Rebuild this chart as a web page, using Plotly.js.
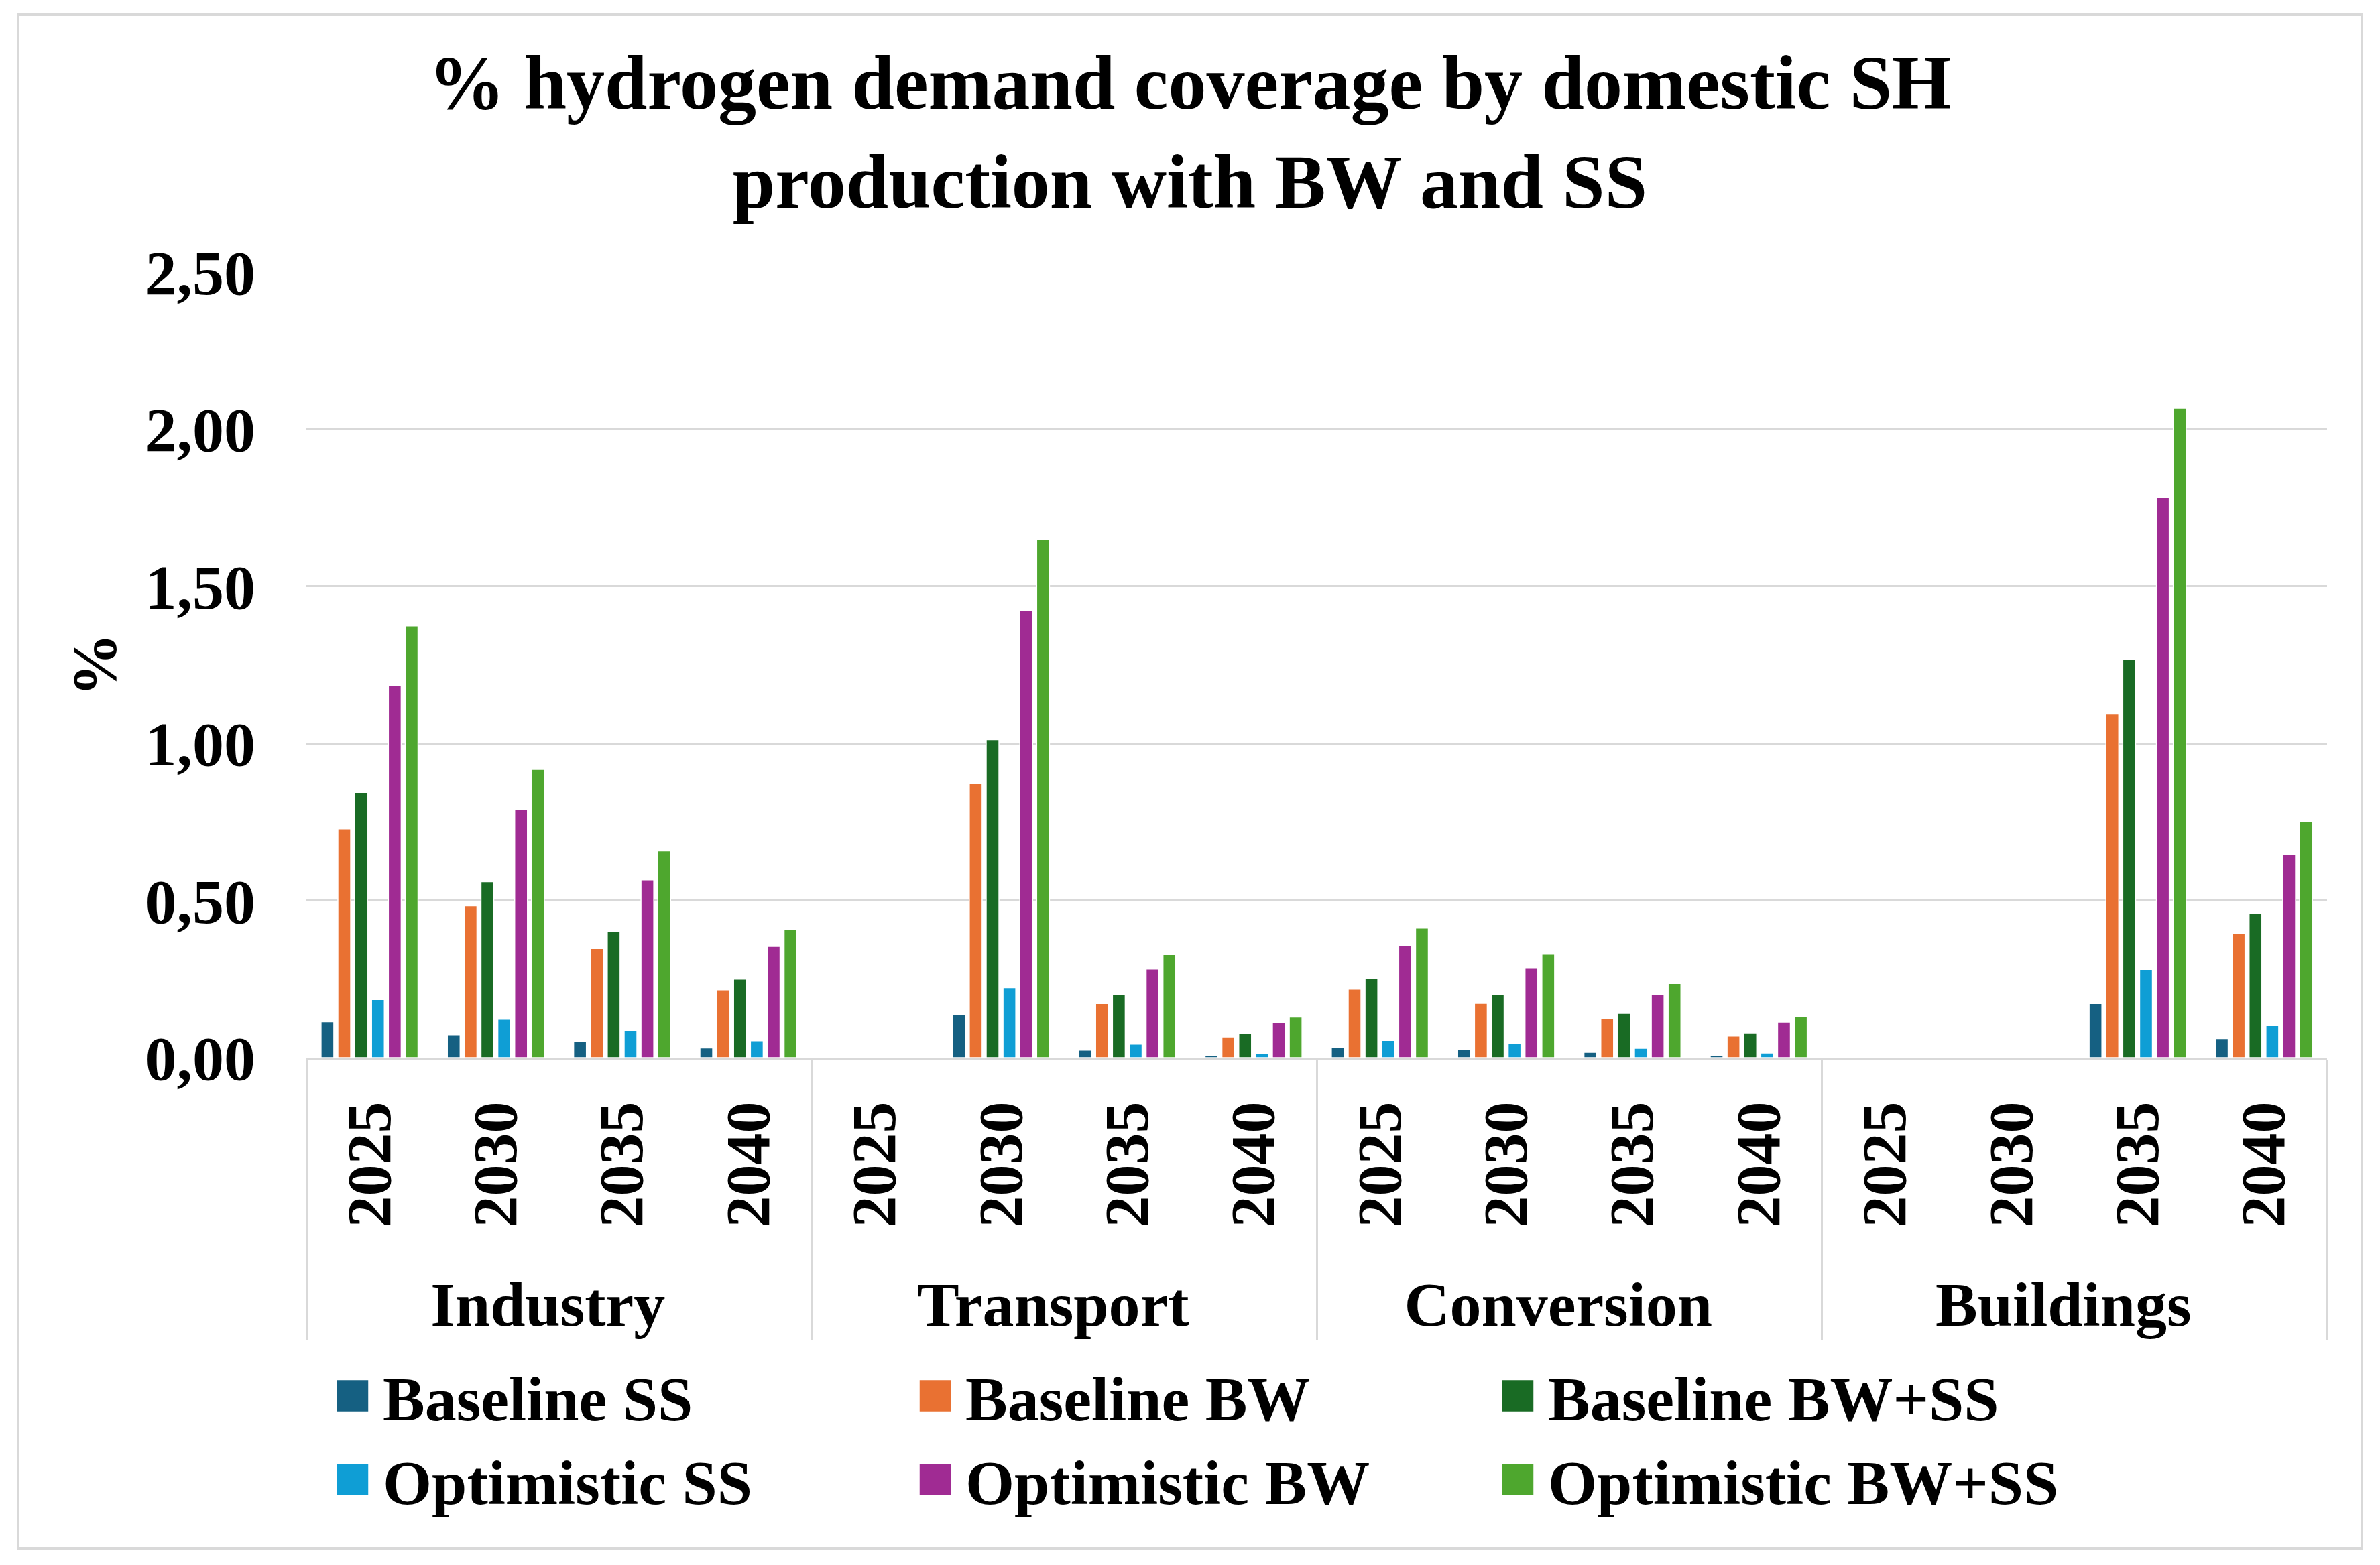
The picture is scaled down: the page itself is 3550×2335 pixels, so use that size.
<!DOCTYPE html>
<html><head><meta charset="utf-8">
<script src="https://cdn.plot.ly/plotly-3.0.1.min.js"></script>
<style>html,body{margin:0;padding:0;background:#fff;} #chart{width:3550px;height:2335px;}</style>
</head><body><div id="chart"></div>
<script>
const categories = ['Industry', 'Transport', 'Conversion', 'Buildings'];
const years = ['2025', '2030', '2035', '2040'];
const seriesNames = ['Baseline SS', 'Baseline BW', 'Baseline BW+SS', 'Optimistic SS', 'Optimistic BW', 'Optimistic BW+SS'];
const seriesColors = ['#156082', '#E97132', '#196B24', '#0F9ED5', '#A02B93', '#4EA72E'];

// values ordered Industry 2025..2040, Transport, Conversion, Buildings
const baselineSS     = [0.114, 0.073, 0.053, 0.031,  0, 0.136, 0.024, 0.007,  0.032, 0.026, 0.017, 0.008,  0, 0, 0.172, 0.061];
const baselineBW     = [0.728, 0.483, 0.347, 0.216,  0, 0.872, 0.172, 0.066,  0.218, 0.173, 0.124, 0.069,  0, 0, 1.093, 0.395];
const baselineBWSS   = [0.844, 0.560, 0.401, 0.250,  0, 1.012, 0.202, 0.078,  0.251, 0.202, 0.141, 0.079,  0, 0, 1.268, 0.460];
const optimisticSS   = [0.185, 0.122, 0.087, 0.054,  0, 0.223, 0.043, 0.014,  0.055, 0.044, 0.030, 0.015,  0, 0, 0.281, 0.102];
const optimisticBW   = [1.185, 0.789, 0.566, 0.354,  0, 1.423, 0.282, 0.112,  0.356, 0.284, 0.202, 0.113,  0, 0, 1.783, 0.647];
const optimisticBWSS = [1.374, 0.917, 0.658, 0.408,  0, 1.650, 0.328, 0.129,  0.412, 0.329, 0.236, 0.131,  0, 0, 2.067, 0.751];
const seriesValues = [baselineSS, baselineBW, baselineBWSS, optimisticSS, optimisticBW, optimisticBWSS];

const W = 3550, H = 2335;
const M = {l: 457, r: 79, t: 406, b: 757};
const pw = W - M.l - M.r, ph = H - M.t - M.b;
const px2x = p => (p - M.l) / pw;
const px2y = p => (H - M.b - p) / ph;

const outer = [], inner = [];
categories.forEach(c => years.forEach(y => { outer.push(c); inner.push(y); }));

const traces = seriesValues.map((v, i) => ({
  type: 'bar', name: seriesNames[i], x: [outer, inner], y: v,
  marker: {color: seriesColors[i], line: {color: '#ffffff', width: 1.5}},
  hoverinfo: 'skip'
}));

const font = {family: '"Liberation Serif", "Times New Roman", serif', color: '#000000', weight: 'bold'};

const layout = {
  width: W, height: H,
  margin: {l: M.l, r: M.r, t: M.t, b: M.b, pad: 0},
  paper_bgcolor: '#ffffff', plot_bgcolor: '#ffffff',
  separators: ', ',
  title: {
    text: '% hydrogen demand coverage by domestic SH<br>production with BW and SS',
    font: Object.assign({}, font, {size: 114}),
    x: 0.5, xref: 'container', xanchor: 'center',
    y: 1 - 162 / H, yref: 'container', yanchor: 'top'
  },
  barmode: 'group', bargap: 0.2, bargroupgap: 0.24,
  showlegend: true,
  xaxis: {
    type: 'multicategory', tickangle: -90,
    tickfont: Object.assign({}, font, {size: 94}),
    showline: true, linecolor: '#D9D9D9', linewidth: 3,
    showdividers: true, dividercolor: '#D9D9D9', dividerwidth: 3,
    ticks: '', ticklabelstandoff: 25, showgrid: false
  },
  yaxis: {
    range: [0, 2.5], dtick: 0.5, tick0: 0, tickformat: '.2f',
    tickfont: Object.assign({}, font, {size: 94}),
    gridcolor: '#D9D9D9', gridwidth: 3, zeroline: false, showline: false,
    ticklabelstandoff: 75,
    title: {text: '%', font: Object.assign({}, font, {size: 94}), standoff: 12}
  },
  legend: {
    orientation: 'h', x: px2x(481), xanchor: 'left', y: px2y(2015), yanchor: 'top',
    font: Object.assign({}, font, {size: 94}),
    itemwidth: 80, entrywidth: 774, entrywidthmode: 'pixels',
    traceorder: 'normal', itemclick: false, itemdoubleclick: false,
    bgcolor: 'rgba(0,0,0,0)'
  },
  shapes: [{
    type: 'rect', xref: 'paper', yref: 'paper',
    x0: px2x(27), x1: px2x(3523), y0: px2y(2310), y1: px2y(22),
    line: {color: '#D9D9D9', width: 4}, fillcolor: 'rgba(0,0,0,0)', layer: 'below'
  }]
};

Plotly.newPlot('chart', traces, layout, {displayModeBar: false, responsive: false}).then(gd => {
  gd.querySelectorAll('.legend .legendpoints path').forEach(p => p.setAttribute('d', 'M24,24H-24V-24H24Z'));
});
</script>
</body></html>
